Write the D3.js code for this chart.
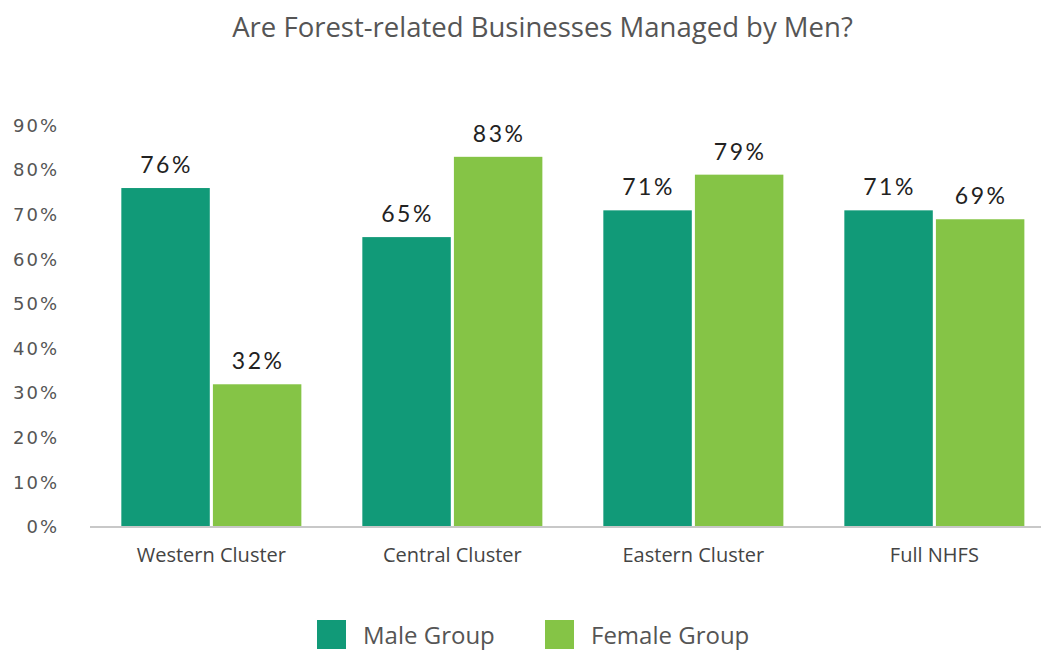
<!DOCTYPE html>
<html>
<head>
<meta charset="utf-8">
<script src="https://cdn.jsdelivr.net/npm/d3@7"></script>
<style>
  html, body { margin: 0; padding: 0; background: #fff; }
  svg { display: block; }
</style>
</head>
<body>
<svg id="chart" width="1041" height="651"></svg>
<script>
// Share of forest-related businesses managed by men, by cluster and respondent group
const categories = ["Western Cluster", "Central Cluster", "Eastern Cluster", "Full NHFS"];
const seriesNames = ["Male Group", "Female Group"];
const maleValues = [76, 65, 71, 71];
const femaleValues = [32, 83, 79, 69];
const yTicks = [0, 10, 20, 30, 40, 50, 60, 70, 80, 90];
const colors = ["#119a78", "#85c446"];

const svg = d3.select("#chart");
const W = 1041, H = 651;
const baseY = 527, topY = 81;   // 0% and 100%

const rows = categories.map((c, i) => ({ category: c, values: [maleValues[i], femaleValues[i]] }));

const x0 = d3.scaleBand().domain(categories).range([90, 1055.7])
  .paddingInner(0.253).paddingOuter(0.13);
const x1 = d3.scaleBand().domain(seriesNames).range([0, x0.bandwidth()]).paddingInner(0.034);
const y = d3.scaleLinear().domain([0, 100]).range([baseY, topY]);

// Title
svg.append("text")
  .attr("x", W / 2 + 22).attr("y", 37)
  .attr("text-anchor", "middle")
  .style("font-family", "'Open Sans', 'Noto Sans', sans-serif")
  .style("font-size", "27.5px")
  .style("fill", "#555")
  .text("Are Forest-related Businesses Managed by Men?");

// Y axis labels (no axis line)
const yAxis = svg.append("g").attr("transform", "translate(59,0)")
  .call(d3.axisLeft(y).tickValues(yTicks).tickSize(0).tickPadding(0).tickFormat(d => d + "%"));
yAxis.select(".domain").remove();
yAxis.selectAll("text")
  .style("font-family", "'DejaVu Sans', sans-serif")
  .style("font-size", "18px")
  .style("letter-spacing", "2px")
  .style("fill", "#555");

// Bars
const groups = svg.append("g").selectAll("g").data(rows).join("g")
  .attr("transform", d => `translate(${x0(d.category)},0)`);

groups.selectAll("rect").data(d => d.values.map((v, i) => ({ key: seriesNames[i], value: v, i })))
  .join("rect")
  .attr("x", d => x1(d.key))
  .attr("y", d => y(d.value))
  .attr("width", x1.bandwidth())
  .attr("height", d => y(0) - y(d.value))
  .attr("fill", d => colors[d.i]);

groups.selectAll("text.val").data(d => d.values.map((v, i) => ({ key: seriesNames[i], value: v })))
  .join("text")
  .attr("class", "val")
  .attr("x", d => x1(d.key) + x1.bandwidth() / 2 + 1)
  .attr("y", d => y(d.value) - 15)
  .attr("text-anchor", "middle")
  .style("font-family", "Lato, 'Noto Sans', sans-serif")
  .style("font-size", "23px")
  .style("letter-spacing", "2.5px")
  .style("fill", "#222")
  .text(d => d.value + "%");

// Baseline
svg.append("line")
  .attr("x1", 90).attr("x2", W).attr("y1", baseY).attr("y2", baseY)
  .attr("stroke", "#c8c8c8").attr("stroke-width", 2);

// Category labels
const xAxis = svg.append("g").attr("transform", `translate(0,${baseY})`)
  .call(d3.axisBottom(x0).tickSize(0).tickPadding(21));
xAxis.select(".domain").remove();
xAxis.selectAll("text")
  .style("font-family", "'Open Sans', 'Noto Sans', sans-serif")
  .style("font-size", "20px")
  .style("fill", "#444");

// Legend
const legendX = [317, 545];
const legend = svg.append("g").selectAll("g").data(seriesNames).join("g")
  .attr("transform", (d, i) => `translate(${legendX[i]},620)`);
legend.append("rect").attr("width", 29).attr("height", 29).attr("fill", (d, i) => colors[i]);
legend.append("text")
  .attr("x", 46).attr("y", 24)
  .style("font-family", "'Open Sans', 'Noto Sans', sans-serif")
  .style("font-size", "24px")
  .style("fill", "#555")
  .text(d => d);
</script>
</body>
</html>
